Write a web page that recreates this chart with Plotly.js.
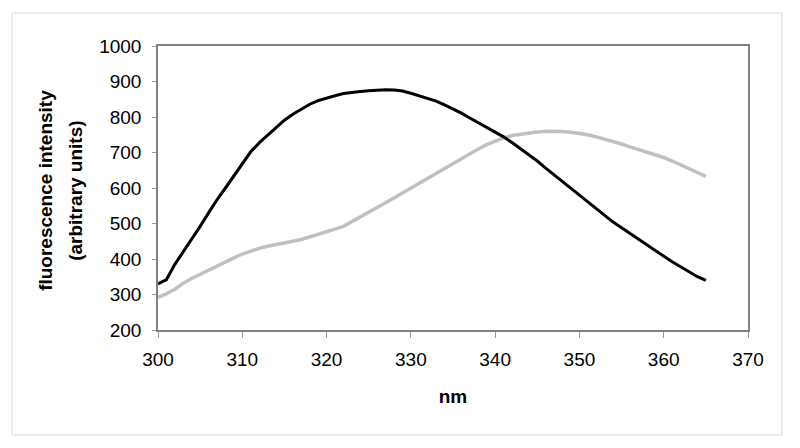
<!DOCTYPE html>
<html>
<head>
<meta charset="utf-8">
<script src="https://cdn.plot.ly/plotly-3.0.1.min.js"></script>
<style>
  html, body { margin: 0; padding: 0; background: #fff; }
  #chart { width: 800px; height: 448px; }
</style>
</head>
<body>
<div id="chart"></div>
<script>
// Wavelength axis (nm), 1 nm steps
const wavelengths = [
  300, 301, 302, 303, 304, 305, 306, 307, 308, 309,
  310, 311, 312, 313, 314, 315, 316, 317, 318, 319,
  320, 321, 322, 323, 324, 325, 326, 327, 328, 329,
  330, 331, 332, 333, 334, 335, 336, 337, 338, 339,
  340, 341, 342, 343, 344, 345, 346, 347, 348, 349,
  350, 351, 352, 353, 354, 355, 356, 357, 358, 359,
  360, 361, 362, 363, 364, 365
];

// Black spectrum (peak near 327 nm)
const blackSeries = [
  330, 342, 385, 420, 456, 492, 530, 567, 600, 635,
  668, 702, 727, 749, 771, 791, 808, 822, 836, 846,
  854, 860, 866, 870, 872, 874, 876, 877, 876, 873,
  867, 860, 853, 845, 834, 823, 811, 797, 784, 770,
  757, 744, 728, 711, 695, 676, 656, 637, 618, 598,
  578, 559, 540, 521, 504, 488, 472, 456, 440, 423,
  408, 392, 378, 364, 350, 340
];

// Grey spectrum (peak near 346 nm)
const greySeries = [
  292, 302, 315, 332, 345, 357, 368, 380, 392, 403,
  414, 423, 430, 436, 440, 445, 450, 455, 462, 468,
  476, 484, 492, 505, 518, 532, 545, 558, 572, 586,
  600, 614, 628, 642, 656, 670, 684, 697, 710, 722,
  732, 741, 748, 752, 756, 758, 760, 760, 759, 757,
  754, 750, 744, 738, 731, 724, 716, 709, 702, 694,
  686, 676, 665, 654, 642, 633
];

const xTicks = [300, 310, 320, 330, 340, 350, 360, 370];
const yTicks = [200, 300, 400, 500, 600, 700, 800, 900, 1000];
const yTitleLines = ['fluorescence intensity', '(arbitrary units)'];

const FONT = 'Liberation Sans, Arial, sans-serif';

const traceGrey = {
  x: wavelengths,
  y: greySeries,
  type: 'scatter',
  mode: 'lines',
  line: { color: '#c0c0c0', width: 3.5 },
  showlegend: false,
  hoverinfo: 'x+y'
};

const traceBlack = {
  x: wavelengths,
  y: blackSeries,
  type: 'scatter',
  mode: 'lines',
  line: { color: '#000000', width: 3 },
  showlegend: false,
  hoverinfo: 'x+y'
};

// y title drawn as two rotated annotations to get Excel-like line spacing
const titleX = [-0.1898, -0.139];
const yTitleAnnotations = yTitleLines.map((t, i) => ({
  text: '<b>' + t + '</b>',
  xref: 'paper', yref: 'paper',
  x: titleX[i], y: 0.49,
  xanchor: 'center', yanchor: 'middle',
  textangle: -90,
  showarrow: false,
  font: { family: FONT, size: 19, color: '#000' }
}));

const layout = {
  width: 800,
  height: 448,
  margin: { l: 158, r: 52, t: 46, b: 118, pad: 0 },
  paper_bgcolor: '#ffffff',
  plot_bgcolor: '#ffffff',
  font: { family: FONT, size: 19, color: '#000' },
  xaxis: {
    range: [300, 370],
    tickvals: xTicks,
    ticktext: xTicks.map(String),
    ticks: 'outside',
    ticklen: 6,
    tickcolor: '#999',
    tickwidth: 1,
    ticklabelstandoff: 5,
    showgrid: false,
    zeroline: false,
    showline: true,
    mirror: true,
    linecolor: '#808080',
    linewidth: 1.5,
    tickfont: { family: FONT, size: 19, color: '#000' },
    title: { text: '<b>nm</b>', font: { family: FONT, size: 19, color: '#000' }, standoff: 21 }
  },
  yaxis: {
    range: [200, 1000],
    tickvals: yTicks,
    ticktext: yTicks.map(String),
    ticks: 'outside',
    ticklen: 4,
    tickcolor: '#999',
    tickwidth: 1,
    ticklabelstandoff: 7,
    showgrid: false,
    zeroline: false,
    showline: true,
    mirror: true,
    linecolor: '#808080',
    linewidth: 1.5,
    tickfont: { family: FONT, size: 19, color: '#000' }
  },
  annotations: yTitleAnnotations,
  shapes: [
    {
      // outer chart frame
      type: 'rect',
      xref: 'paper', yref: 'paper',
      x0: -0.2475, x1: 1.0576,
      y0: -0.3697, y1: 1.116,
      line: { color: '#d9d9d9', width: 1 },
      fillcolor: 'rgba(0,0,0,0)',
      layer: 'below'
    }
  ]
};

const config = { displayModeBar: false, responsive: false };

Plotly.newPlot('chart', [traceGrey, traceBlack], layout, config);
</script>
</body>
</html>
